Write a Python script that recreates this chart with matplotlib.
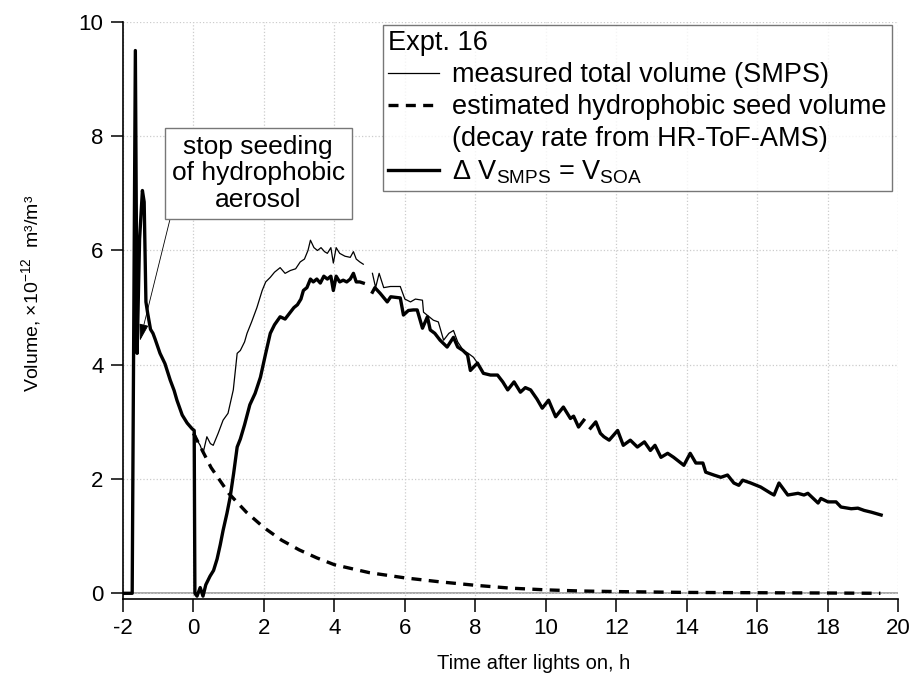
import numpy as np
import matplotlib
matplotlib.use("Agg")
import matplotlib.pyplot as plt
from matplotlib.lines import Line2D

plt.rcParams["font.family"] = ["Liberation Sans", "DejaVu Sans"]
plt.rcParams["mathtext.fontset"] = "custom"
plt.rcParams["mathtext.rm"] = "Liberation Sans"
plt.rcParams["mathtext.it"] = "Liberation Sans:italic"
plt.rcParams["mathtext.default"] = "regular"
plt.rcParams["axes.unicode_minus"] = False

nan = np.nan

# Delta V_SMPS = V_SOA (thick line); before lights on it equals the total volume
soa_t = [-2.0, -1.74, -1.65, -1.60, -1.53, -1.45, -1.40, -1.35, -1.30, -1.22, -1.15, -1.09,
         -0.95, -0.81, -0.66, -0.55, -0.47, -0.32, -0.18, -0.04, 0.02,
         0.04, 0.10, 0.19, 0.27, 0.35, 0.47, 0.57, 0.67, 0.76, 0.84, 0.95, 1.04, 1.14, 1.24,
         1.33, 1.45, 1.60, 1.75, 1.90, 2.05, 2.18, 2.30, 2.46, 2.60, 2.75, 2.85, 2.95, 3.05,
         3.12, 3.22, 3.32, 3.40, 3.50, 3.60, 3.70, 3.80, 3.90, 3.97, 4.05, 4.15, 4.25, 4.35,
         4.45, 4.54, 4.62, 4.72, 4.82, 4.95,
         5.08, 5.15, 5.30, 5.50, 5.60, 5.87, 5.96, 6.10, 6.24, 6.35, 6.50, 6.64, 6.72, 6.85,
         7.00, 7.20, 7.38, 7.50, 7.65, 7.78, 7.86,
         8.06, 8.23, 8.43, 8.63, 8.78, 8.92, 9.10, 9.28, 9.42, 9.57, 9.75, 9.90, 10.08, 10.28,
         10.50, 10.70, 10.79, 10.93, 11.08, 11.18,
         11.27, 11.42, 11.55, 11.65, 11.80, 12.04, 12.20, 12.40, 12.60, 12.80, 12.97, 13.10,
         13.27, 13.46, 13.63, 13.92, 14.10, 14.26, 14.46, 14.54, 14.77, 14.97, 15.16, 15.34,
         15.48, 15.59, 15.82, 16.10, 16.39, 16.48, 16.62, 16.87, 17.16, 17.33, 17.44, 17.73,
         17.81, 18.01, 18.24, 18.38, 18.67, 18.86, 19.04, 19.24, 19.52]
soa_v = [0.0, 0.0, 9.5, 4.2, 6.2, 7.05, 6.85, 5.1, 4.9, 4.62, 4.55, 4.45,
         4.2, 4.02, 3.73, 3.55, 3.38, 3.12, 2.98, 2.88, 2.85,
         0.0, -0.05, 0.1, -0.05, 0.15, 0.3, 0.4, 0.6, 0.85, 1.1, 1.4, 1.68, 2.1, 2.56,
         2.7, 2.95, 3.3, 3.5, 3.78, 4.2, 4.55, 4.7, 4.84, 4.8, 4.92, 5.0, 5.05, 5.15,
         5.3, 5.35, 5.5, 5.45, 5.5, 5.43, 5.55, 5.5, 5.55, 5.3, 5.55, 5.45, 5.48, 5.45,
         5.5, 5.6, 5.45, 5.45, 5.43, nan,
         5.27, 5.35, 5.25, 5.1, 5.19, 5.17, 4.87, 4.95, 4.96, 4.96, 4.64, 4.84, 4.61, 4.55,
         4.43, 4.31, 4.48, 4.31, 4.25, 4.17, 3.9,
         4.03, 3.85, 3.82, 3.82, 3.7, 3.56, 3.7, 3.52, 3.6, 3.56, 3.4, 3.24, 3.38, 3.09,
         3.26, 3.06, 3.1, 2.91, 3.03, nan,
         2.89, 3.0, 2.8, 2.74, 2.68, 2.85, 2.59, 2.68, 2.56, 2.65, 2.5, 2.59,
         2.38, 2.45, 2.38, 2.24, 2.45, 2.28, 2.28, 2.12, 2.07, 2.03, 2.07, 1.93,
         1.89, 1.98, 1.93, 1.86, 1.75, 1.72, 1.93, 1.72, 1.75, 1.72, 1.75, 1.58,
         1.66, 1.6, 1.6, 1.51, 1.48, 1.49, 1.45, 1.42, 1.37]

# measured total volume (SMPS), thin line, after lights on
smps_t = [0.02, 0.10, 0.19, 0.27, 0.38, 0.48, 0.56, 0.70, 0.84, 0.98, 1.13, 1.24, 1.33, 1.45,
          1.52, 1.65, 1.80, 1.95, 2.05, 2.18, 2.30, 2.46, 2.60, 2.75, 2.90, 3.03, 3.15, 3.25,
          3.32, 3.42, 3.52, 3.62, 3.72, 3.80, 3.90, 3.97, 4.05, 4.15, 4.30, 4.45, 4.54, 4.62,
          4.72, 4.82, 4.95,
          5.08, 5.17, 5.27, 5.40, 5.59, 5.87, 6.00, 6.16, 6.30, 6.50, 6.53, 6.81, 6.95, 7.10,
          7.25, 7.38, 7.50, 7.66, 7.80, 7.95, 8.06]
smps_v = [2.85, 2.68, 2.59, 2.45, 2.74, 2.62, 2.59, 2.8, 3.03, 3.15, 3.56, 4.2, 4.25, 4.4,
          4.55, 4.75, 5.0, 5.3, 5.45, 5.53, 5.62, 5.7, 5.6, 5.65, 5.68, 5.8, 5.85, 6.0,
          6.18, 6.05, 6.0, 6.05, 5.98, 5.95, 6.05, 5.78, 6.05, 5.95, 5.9, 5.88, 5.98, 5.85,
          5.8, 5.76, nan,
          5.6, 5.35, 5.6, 5.35, 5.37, 5.37, 5.15, 5.1, 5.15, 5.13, 4.92, 4.78, 4.75, 4.43,
          4.55, 4.6, 4.4, 4.25, 4.2, 4.13, 4.03]

# estimated hydrophobic seed volume (dashed)
seed_t = [0.0, 0.5, 1.0, 1.5, 2.0, 2.5, 3.0, 3.5, 4.0, 5.0, 6.0, 7.0, 8.0, 9.0, 10.0,
          11.0, 12.0, 14.0, 16.0, 18.0, 19.5]
seed_v = [2.8, 2.2, 1.75, 1.42, 1.15, 0.93, 0.76, 0.62, 0.5, 0.36, 0.27, 0.2, 0.14, 0.09,
          0.06, 0.04, 0.03, 0.015, 0.01, 0.005, 0.0]

x_ticks = list(range(-2, 21, 2))
y_ticks = list(range(0, 11, 2))

fig = plt.figure(figsize=(9.12, 6.76), dpi=100)
ax = fig.add_axes([0.1349, 0.1139, 0.8498, 0.8536])

ax.axhline(0, color="#9a9a9a", lw=1.2, zorder=1)
ax.plot(seed_t, seed_v, color="black", lw=2.4, linestyle=(0, (3, 2.2)), zorder=3)
ax.plot(smps_t, smps_v, color="black", lw=0.9, zorder=3)
ax.plot(soa_t, soa_v, color="black", lw=2.4, zorder=4, solid_joinstyle="round")

ax.set_xlim(-2, 20)
ax.set_ylim(-0.1, 10)
ax.set_xticks(x_ticks)
ax.set_yticks(y_ticks)
ax.grid(True, color="#cccccc", linestyle=":", lw=0.9)
for s in ["top", "right"]:
    ax.spines[s].set_visible(False)
for s in ["left", "bottom"]:
    ax.spines[s].set_linewidth(1.2)
ax.tick_params(direction="out", length=9, width=1.1, labelsize=16, pad=5)

ax.set_xlabel("Time after lights on, h", fontsize=14.5)
ax.xaxis.set_label_coords(0.53, -0.095)
ax.set_ylabel("Volume, ×10$^{-12}$  m³/m³", fontsize=14)
ax.yaxis.set_label_coords(-0.103, 0.53)

ax.annotate("stop seeding\nof hydrophobic\naerosol", xy=(-1.52, 4.42), xytext=(1.84, 7.35),
            textcoords="data", ha="center", va="center", fontsize=19, linespacing=1.15,
            bbox=dict(boxstyle="square,pad=0.26", fc="white", ec="#777777", lw=1.0),
            arrowprops=dict(arrowstyle="-|>,head_length=0.55,head_width=0.15", color="black",
                            lw=0.6, relpos=(0, 0), shrinkA=0, shrinkB=0),
            zorder=5)

handles = [Line2D([], [], color="black", lw=0.9),
           Line2D([], [], color="black", lw=2.4, linestyle=(0, (3, 2.2))),
           Line2D([], [], color="none"),
           Line2D([], [], color="black", lw=2.4)]
labels = ["measured total volume (SMPS)",
          "estimated hydrophobic seed volume",
          "(decay rate from HR-ToF-AMS)",
          "Δ V$_{SMPS}$ = V$_{SOA}$"]
leg = ax.legend(handles, labels, title="Expt. 16", loc="upper right",
                bbox_to_anchor=(892 / 912, 1 - 25 / 676), bbox_transform=fig.transFigure,
                fontsize=19.5, title_fontsize=19.5, alignment="left", frameon=True,
                fancybox=False, edgecolor="#555555", handlelength=1.85, handletextpad=0.5,
                labelspacing=0.22, borderpad=0.2, borderaxespad=0)
leg.get_frame().set_linewidth(1.0)
leg.set_zorder(6)

fig.savefig("out.png", dpi=100)
